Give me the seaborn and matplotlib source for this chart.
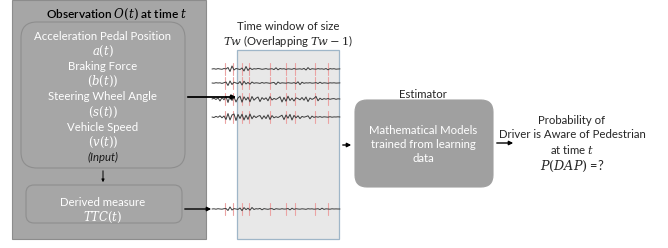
import numpy as np
import pandas as pd
import matplotlib.pyplot as plt
import seaborn as sns
from matplotlib.patches import FancyBboxPatch, Rectangle

# ----------------------------
# Diagram text
# ----------------------------
input_lines = ["Acceleration Pedal Position", "$a(t)$", "Braking Force", "$(b(t))$",
               "Steering Wheel Angle", "$(s(t))$", "Vehicle Speed", "$(v(t))$"]
derived_lines = ["Derived measure", "$TTC(t)$"]
model_lines = ["Mathematical Models", "trained from learning", "data"]
output_lines = ["Probability of", "Driver is Aware of Pedestrian", "at time $t$"]

# signal traces (offsets in px, sampled evenly over the strip)
sig_a = [0, .3, -.2, .4, 0, -.3, .5, 0, 1.5, -2.5, 3, -1, .5, 0, -.5, 1, -2, 2.5, -1.5, 1, -.5, .3,
         0, .5, .2, -.3, 0, .4, -.2, 0, .3, -.6, 1.2, -.8, .5, 0, .3, -.4, .2, 0, -.3, .5, -.2, 0,
         .2, -.3, .6, -1, 1.4, -.6, .3, 0, -.2, .4, 0, .2, -.3, .5, -.8, .4, 0, .3, -.2, 0, .1]
sig_b = [0, -.2, .3, 0, .2, -.4, .3, 1, -2.5, 2, -1.5, .8, 0, -.6, 1.5, -2, 1.8, -1, .6, -1.2, 1,
         -.3, .2, 0, -.4, .5, -.2, .3, 0, -.3, .2, .6, -1.5, 1, -.4, .2, 0, -.2, .3, 0, -.2, .4,
         -.6, 1.2, -1.6, .8, -.3, .2, 0, .3, -.2, 0, .4, -.5, .8, -.4, .2, 0, -.3, .2, 0, .2, -.1, 0, .1]
sig_c = [0, .8, -.5, 1.2, -2, 1.5, -.8, 2.5, -3.5, 3, -1.5, 2, -3, 1, 2.8, -3.2, 2.2, -1, 1.8, -2.8,
         2.5, -1.2, .8, 2, -2.6, 1.4, -.5, 1.2, -1.8, 2.4, -1, .6, -.4, .8, 2.2, -3, 1.6, -2.2, 2.8,
         -1.5, .9, -2, 1.2, .4, -.8, 1.5, -1.2, 2, -2.6, 1, -.4, .6, 2.6, -1.8, .8, -.6, .4, -.2,
         .5, -.3, .2, .4, -.3, .2, 0]
sig_d = [0, -.5, .6, -.3, 1.2, -.8, 1, -2.5, 3.5, -3, 2, 3, -3.5, 2.6, -1.5, 2.8, -3, 1.8, -2.4,
         3, -1.8, 1.2, -.6, .8, 1.5, -2, 1.2, -1.6, 2.2, -2.5, 1.4, -.8, .3, -.5, .6, 1.8, -2.6, 2,
         -1.2, 2.6, -3, 1.6, -.8, 1.2, -1.6, .6, -.2, .4, 1.2, -1.8, .9, -.4, .3, -.2, .4, -.3, .2,
         0, -.2, .3, -.2, .1, 0, .2, 0]
sig_e = [0, .2, -.2, .3, 0, -.2, .3, .5, -1.5, 2, -1, .4, 0, -.4, 1, -1.6, 1.4, -.6, .8, -1.2,
         1.5, -.5, .3, 0, .6, -.8, .4, 0, -.3, .2, .4, -.6, .3, 0, -.2, .3, -.1, 0, .5, -.9, .8,
         -.4, .3, 0, -.2, .2, 0, -.3, .3, 0, .2, -.2, 0, .3, -.6, .8, -.4, .2, 0, -.2, .2, 0, .1, 0, 0]
signals = [sig_a, sig_b, sig_c, sig_d, sig_e]
signal_rows = [69, 83, 99, 117, 209]
tick_x = [225, 233, 242, 249, 270, 286, 295, 315, 328]

sns.set_style("white")
plt.rcParams['font.family'] = ['Lato', 'DejaVu Sans']
plt.rcParams['mathtext.fontset'] = 'dejavuserif'

fig = plt.figure(figsize=(6.68, 2.48), dpi=100)
ax = fig.add_axes([0, 0, 1, 1])

# ----------------------------
# Time window signals
# ----------------------------
for sig, y0 in zip(signals, signal_rows):
    df = pd.DataFrame({"x": np.linspace(212, 340, len(sig)), "y": y0 - np.array(sig)})
    for tx in tick_x:
        ax.plot([tx, tx], [y0 - 6, y0 + 6], color="#eba3a3", lw=0.8, zorder=2)
    sns.lineplot(data=df, x="x", y="y", ax=ax, color="#3a3a3a", lw=0.7, zorder=3)
ax.set_xlim(0, 668)
ax.set_ylim(248, 0)
ax.axis("off")

ax.add_patch(Rectangle((237, 50), 102, 189, facecolor="#e8e8e8", edgecolor="#9fb6c8", lw=0.9, zorder=1))
ax.text(288, 27, "Time window of size", ha="center", va="center", fontsize=8.2)
ax.text(288, 41, "$Tw$ (Overlapping $Tw-1$)", ha="center", va="center", fontsize=8.2)

# ----------------------------
# Left observation panel
# ----------------------------
ax.add_patch(Rectangle((12, 0), 194, 239, facecolor="#a6a6a6", edgecolor="#8c8c8c", lw=0.8))
ax.add_patch(FancyBboxPatch((21, 22), 164, 146, boxstyle="round,pad=0,rounding_size=16",
                            facecolor="#a6a6a6", edgecolor="#8e8e8e", lw=0.8))
ax.add_patch(FancyBboxPatch((26, 185), 156, 38, boxstyle="round,pad=0,rounding_size=8",
                            facecolor="#a6a6a6", edgecolor="#8e8e8e", lw=0.8))
ax.text(117, 14, "Observation $O(t)$ at time $t$", ha="center", va="center", fontsize=8.6,
        color="black", fontweight="semibold")
for i, s in enumerate(input_lines):
    size = 8.4 if s.startswith("$") else 8.2
    ax.text(103, 36 + i * 15.2, s, ha="center", va="center", fontsize=size, color="white")
ax.text(103, 157, "(Input)", ha="center", va="center", fontsize=8.2, color="#1a1a1a", style="italic")
ax.text(103, 203, derived_lines[0], ha="center", va="center", fontsize=8.2, color="white")
ax.text(103, 217, derived_lines[1], ha="center", va="center", fontsize=8.4, color="white")

# ----------------------------
# Estimator
# ----------------------------
ax.add_patch(FancyBboxPatch((355, 100), 138, 87, boxstyle="round,pad=0,rounding_size=12",
                            facecolor="#a0a0a0", edgecolor="#a0a0a0", lw=0.8))
ax.text(423, 94, "Estimator", ha="center", va="center", fontsize=8.2)
for i, s in enumerate(model_lines):
    ax.text(423, 130 + i * 14.5, s, ha="center", va="center", fontsize=8.2, color="white")

for i, s in enumerate(output_lines):
    ax.text(572, 120 + i * 15, s, ha="center", va="center", fontsize=8.2)
ax.text(572, 166, "$P(DAP)$ =?", ha="center", va="center", fontsize=9.2)

# ----------------------------
# Arrows
# ----------------------------
arrow = dict(arrowstyle="-|>", color="black", lw=1.0, mutation_scale=6)
ax.annotate("", xy=(239, 97), xytext=(185, 97), arrowprops=dict(arrow, lw=1.3))
ax.annotate("", xy=(103, 185), xytext=(103, 168), arrowprops=dict(arrow, lw=0.7, mutation_scale=4))
ax.annotate("", xy=(214, 209), xytext=(182, 209), arrowprops=arrow)
ax.annotate("", xy=(354, 145), xytext=(340, 145), arrowprops=arrow)
ax.annotate("", xy=(516, 143), xytext=(494, 143), arrowprops=arrow)

fig.savefig("out.png", dpi=100)
